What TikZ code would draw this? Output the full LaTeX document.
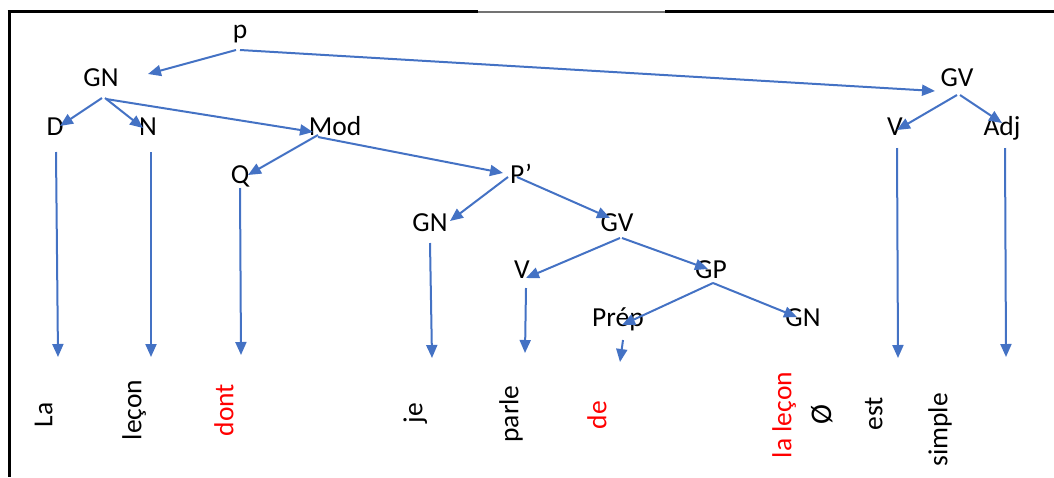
\documentclass[tikz,border=0pt]{standalone}
\usepackage{fontspec}
\setmainfont{Carlito}
\usetikzlibrary{arrows.meta}
\definecolor{offblue}{HTML}{4472C4}
\begin{document}
\begin{tikzpicture}[x=1pt,y=-1pt,
  lab/.style={inner sep=0pt,anchor=base,font=\fontsize{27.5}{32}\selectfont},
  word/.style={inner sep=0pt,anchor=mid,rotate=90,font=\fontsize{27.5}{32}\selectfont},
  redword/.style={word,text=red},
  conn/.style={draw=offblue,line width=2pt,-{Triangle[length=13pt,width=11pt]}},
  frame/.style={line width=3pt,black}]
\useasboundingbox (0,0) rectangle (1054,477);
% frame
\draw[frame] (9,11) -- (9,477);
\draw[frame] (7.5,11) -- (478,11);
\draw[frame] (665,11) -- (1054,11);
\draw[line width=1.2pt,black!55] (478,12) -- (665,12);
% tree labels
\node[lab] (p) at (240,38) {p};
\node[lab] (GNa) at (101,86.5) {GN};
\node[lab] (GVa) at (957,86.5) {GV};
\node[lab] (D) at (55,135.5) {D};
\node[lab] (N) at (148,135.5) {N};
\node[lab] (Mod) at (335,135.5) {Mod};
\node[lab] (Va) at (895,135.5) {V};
\node[lab] (Adj) at (1002,135.5) {Adj};
\node[lab] (Q) at (240,183.5) {Q};
\node[lab] (P) at (521,183.5) {P’};
\node[lab] (GNb) at (430,231) {GN};
\node[lab] (GVb) at (617,231) {GV};
\node[lab] (Vb) at (522,278.5) {V};
\node[lab] (GP) at (711,278.5) {GP};
\node[lab] (Prep) at (618,326.5) {Prép};
\node[lab] (GNc) at (803,326.5) {GN};
% words
\node[word] (wLa) at (50,415) {La};
\node[word] (wlecon) at (139,410) {leçon};
\node[redword] (wdont) at (231,410) {dont};
\node[word] (wje) at (420,413) {je};
\node[word] (wparle) at (516,414) {parle};
\node[redword] (wde) at (604,415) {de};
\node[redword] (wlalecon) at (789,415) {la leçon};
\node[word,anchor=center,font=\fontsize{30}{34}\selectfont] (wnull) at (822,415) {Ø};
\node[word] (west) at (880,414) {est};
\node[word] (wsimple) at (945,430) {simple};
% free ends of the vertical arrows
\coordinate (tD) at (58,357);
\coordinate (tN) at (151,357);
\coordinate (tQ) at (241,355);
\coordinate (tGNb) at (432,358);
\coordinate (tVb) at (525,353);
\coordinate (tPrep) at (620,362);
\coordinate (tVa) at (898,358);
\coordinate (tAdj) at (1006,357);
% tree connectors
\draw[conn] ([shift={(-4,12)}]p.base) -- ([shift={(47,-12.5)}]GNa.base);
\draw[conn] ([shift={(0,12)}]p.base) -- ([shift={(-22,4.5)}]GVa.base);
\draw[conn] ([shift={(1,11.5)}]GNa.base) -- ([shift={(5,-9.5)}]D.base);
\draw[conn] ([shift={(4,11.5)}]GNa.base) -- ([shift={(-5,-7.5)}]N.base);
\draw[conn] ([shift={(5,12.5)}]GNa.base) -- ([shift={(-22,-3.5)}]Mod.base);
\draw[conn] ([shift={(-17,-0.5)}]Mod.base) -- ([shift={(8,-8.5)}]Q.base);
\draw[conn] ([shift={(-17,1.5)}]Mod.base) -- ([shift={(-18,-10.5)}]P.base);
\draw[conn] ([shift={(-13,-6.5)}]P.base) -- ([shift={(20,-10)}]GNb.base);
\draw[conn] ([shift={(-4,-6.5)}]P.base) -- ([shift={(-7,-13)}]GVb.base);
\draw[conn] ([shift={(3,7)}]GVb.base) -- ([shift={(4,-0.5)}]Vb.base);
\draw[conn] ([shift={(5,7)}]GVb.base) -- ([shift={(-3,-9.5)}]GP.base);
\draw[conn] ([shift={(2,4.5)}]GP.base) -- ([shift={(4,-1.5)}]Prep.base);
\draw[conn] ([shift={(2,4.5)}]GP.base) -- ([shift={(-6,-9.5)}]GNc.base);
\draw[conn] ([shift={(0,8.5)}]GVa.base) -- ([shift={(2,-5.5)}]Va.base);
\draw[conn] ([shift={(3,8.5)}]GVa.base) -- ([shift={(0,-12.5)}]Adj.base);
% vertical connectors
\draw[conn] ([shift={(1,16.5)}]D.base) -- (tD);
\draw[conn] ([shift={(3,16.5)}]N.base) -- (tN);
\draw[conn] ([shift={(0,4.5)}]Q.base) -- (tQ);
\draw[conn] ([shift={(0,12)}]GNb.base) -- (tGNb);
\draw[conn] ([shift={(4,9.5)}]Vb.base) -- (tVb);
\draw[conn] ([shift={(5,13.5)}]Prep.base) -- (tPrep);
\draw[conn] ([shift={(2,12.5)}]Va.base) -- (tVa);
\draw[conn] ([shift={(3,12.5)}]Adj.base) -- (tAdj);
\end{tikzpicture}
\end{document}
